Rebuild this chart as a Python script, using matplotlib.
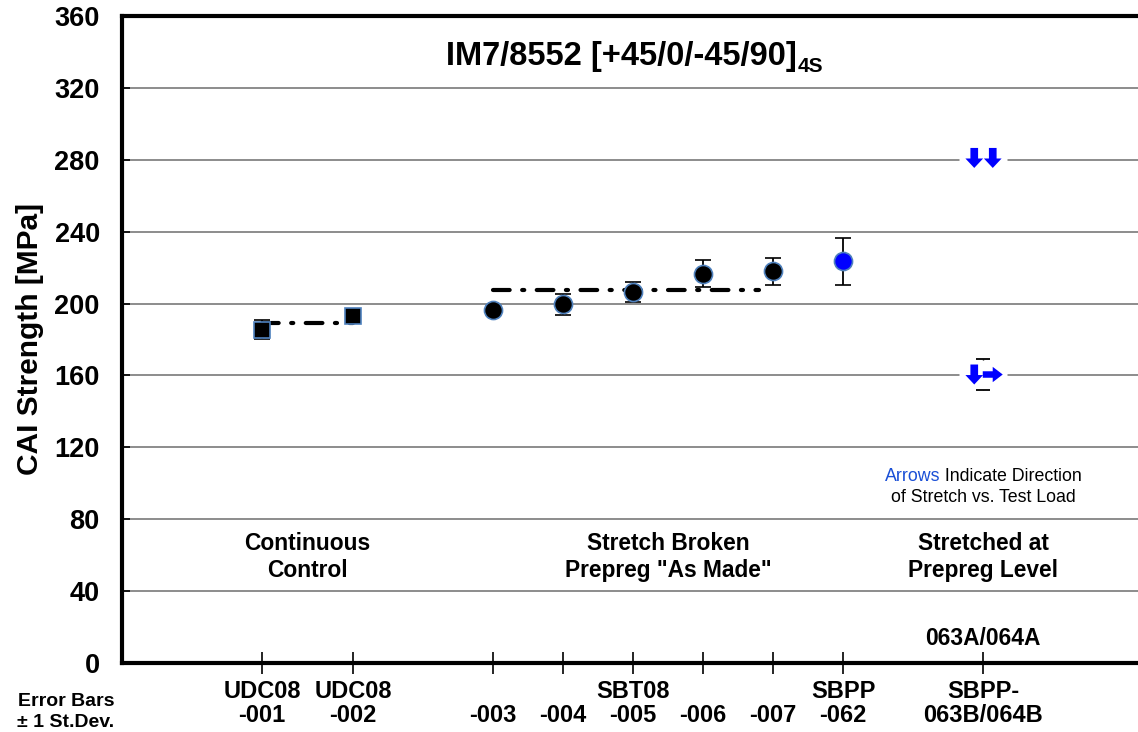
import matplotlib
matplotlib.use("Agg")
import matplotlib.pyplot as plt
import matplotlib.transforms as mtransforms
import numpy as np

# positions of the specimen groups along the x axis
x_pos = [1, 2.3, 4.3, 5.3, 6.3, 7.3, 8.3, 9.3, 11.3]
tick_labels = ["UDC08\n-001", "UDC08\n-002", "\n-003", "\n-004", "SBT08\n-005",
               "\n-006", "\n-007", "SBPP\n-062", "SBPP-\n063B/064B"]

# CAI strength, mean and std dev [MPa]
control_x = [1, 2.3]
control_mean = [185.5, 193.2]
control_sd = [5.5, 1.5]

sbt_x = [4.3, 5.3, 6.3, 7.3, 8.3]
sbt_mean = [196.5, 199.5, 206.5, 216.5, 218.0]
sbt_sd = [1.5, 6.0, 5.5, 7.5, 7.5]

sbpp_x = [9.3]
sbpp_mean = [223.5]
sbpp_sd = [13.0]

# 063B/064B, plotted as arrows (stretch direction vs. test load)
arrow_x = [11.3, 11.3]
arrow_mean = [281.0, 160.5]
arrow_sd = [np.nan, 8.5]
arrow_dirs = [("down", "down"), ("down", "right")]

# extent of the group-average lines
ctrl_avg_span = [1, 2.3]
sbt_avg_span = [4.3, 8.1]

plt.rcParams['font.family'] = ['Liberation Sans', 'DejaVu Sans']
plt.rcParams['lines.scale_dashes'] = False

fig = plt.figure(figsize=(11.38, 7.32), dpi=100)
ax = fig.add_axes([0.1072, 0.0943, 0.8928, 0.8839])

edge = '#4f81bd'
err_kw = dict(ecolor='black', elinewidth=1.3, capsize=6, capthick=1.3, zorder=4)
ax.errorbar(control_x, control_mean, yerr=control_sd, fmt='s', ms=11.5,
            mfc='black', mec=edge, mew=1.2, **err_kw)
ax.errorbar(sbt_x, sbt_mean, yerr=sbt_sd, fmt='o', ms=13,
            mfc='black', mec=edge, mew=1.2, **err_kw)
ax.errorbar(sbpp_x, sbpp_mean, yerr=sbpp_sd, fmt='o', ms=13,
            mfc='#0000ff', mec=edge, mew=1.2, **err_kw)

# arrow points: white backing box breaks the grid line, caps stay visible
box = [(-1.6, -1), (1.6, -1), (1.6, 1), (-1.6, 1)]
ax.plot(arrow_x, arrow_mean, ls='none', marker=box, ms=35, mfc='white',
        mec='none', zorder=4.5)
eb = ax.errorbar(arrow_x, arrow_mean, yerr=arrow_sd, fmt='none', ecolor='black',
                 elinewidth=1.0, capsize=5, capthick=1.3)
for c in eb[1]:
    c.set_zorder(4.6)
for c in eb[2]:
    c.set_zorder(3)

# (tail offset, head offset) in pixels from the point, per arrow direction
shapes = {"down": ((0, 10), (0, -10)), "right": ((-10, 0), (10, 0))}
styles = {"down": "simple,head_length=0.8,head_width=1.5,tail_width=0.65",
          "right": "simple,head_length=0.85,head_width=1.3,tail_width=0.55"}
for x, y, dirs in zip(arrow_x, arrow_mean, arrow_dirs):
    for d, dx in zip(dirs, (-9, 9.5)):
        (tx, ty), (hx, hy) = shapes[d]
        tail = mtransforms.offset_copy(ax.transData, fig=fig, x=dx + tx, y=ty, units='dots')
        head = mtransforms.offset_copy(ax.transData, fig=fig, x=dx + hx, y=hy, units='dots')
        ax.annotate("", xy=(x, y), xycoords=head, xytext=(x, y), textcoords=tail,
                    arrowprops=dict(arrowstyle=styles[d], mutation_scale=8.5,
                                    fc='#0000ff', ec='none', lw=0,
                                    shrinkA=0, shrinkB=0),
                    zorder=5)

# group averages
for span, vals in [(ctrl_avg_span, control_mean), (sbt_avg_span, sbt_mean)]:
    m = np.mean(vals)
    ax.plot(span, [m, m], color='black', lw=3, dashes=(12, 9, 1.5, 9),
            dash_capstyle='round', zorder=3)

ax.set_xlim(-1.0, 13.51)
ax.set_ylim(0, 360)
ax.set_yticks(np.arange(0, 361, 40))
ax.yaxis.grid(True, color='#8c8c8c', lw=1.4)
ax.set_axisbelow(True)
ax.tick_params(axis='y', direction='in', length=6, width=1.2, pad=16,
               labelsize=19.5)
for lab in ax.get_yticklabels():
    lab.set_fontweight('bold')
ax.set_ylabel("CAI Strength [MPa]", fontsize=21.5, fontweight='bold',
              va='center')
ax.yaxis.set_label_coords(-0.0906, 0.5)

ax.set_xticks(x_pos)
ax.set_xticklabels(tick_labels, fontweight='bold', fontsize=17, linespacing=1.05)
ax.tick_params(axis='x', direction='inout', length=16, width=1.2, pad=4)

for s in ['left', 'bottom', 'top']:
    ax.spines[s].set_linewidth(3)
ax.spines['right'].set_visible(False)

t = ax.text(0.492, 0.9243, "IM7/8552 [+45/0/-45/90]", transform=ax.transAxes,
            ha='center', va='baseline', fontsize=23.5, fontweight='bold')
ax.annotate("4S", xy=(1, 0), xycoords=t, ha='left', va='baseline',
            fontsize=15, fontweight='bold')

group_kw = dict(ha='center', va='center', fontsize=16.4, fontweight='bold',
                linespacing=1.25)
ax.text(np.mean(control_x), 59, "Continuous\nControl", **group_kw)
ax.text(np.mean([sbt_x[0], sbpp_x[0]]), 59, "Stretch Broken\nPrepreg \"As Made\"", **group_kw)
ax.text(arrow_x[0], 59, "Stretched at\nPrepreg Level", **group_kw)
ax.text(arrow_x[0], 13.5, "063A/064A", **group_kw)

# note on the arrows, first word in blue, line centred on the 063B/064B column
r = fig.canvas.get_renderer()
a = ax.text(0, 0, "Arrows", fontsize=12.8, color='#1a4fd6', ha='left', va='center')
b = ax.text(0, 0, " Indicate Direction", fontsize=12.8, ha='left', va='center')
wa = a.get_window_extent(r).width
wb = b.get_window_extent(r).width
cx, cy = ax.transData.transform((arrow_x[0], 103.5))
inv = ax.transData.inverted()
a.set_position(inv.transform((cx - (wa + wb) / 2, cy)))
b.set_position(inv.transform((cx - (wa + wb) / 2 + wa, cy)))
ax.text(arrow_x[0], 92, "of Stretch vs. Test Load", fontsize=12.8,
        ha='center', va='center')

fig.text(0.058, 0.027, "Error Bars\n\u00b1 1 St.Dev.", fontweight='bold',
         fontsize=14, ha='center', va='center', linespacing=1.3)

fig.savefig("out.png", dpi=100)
